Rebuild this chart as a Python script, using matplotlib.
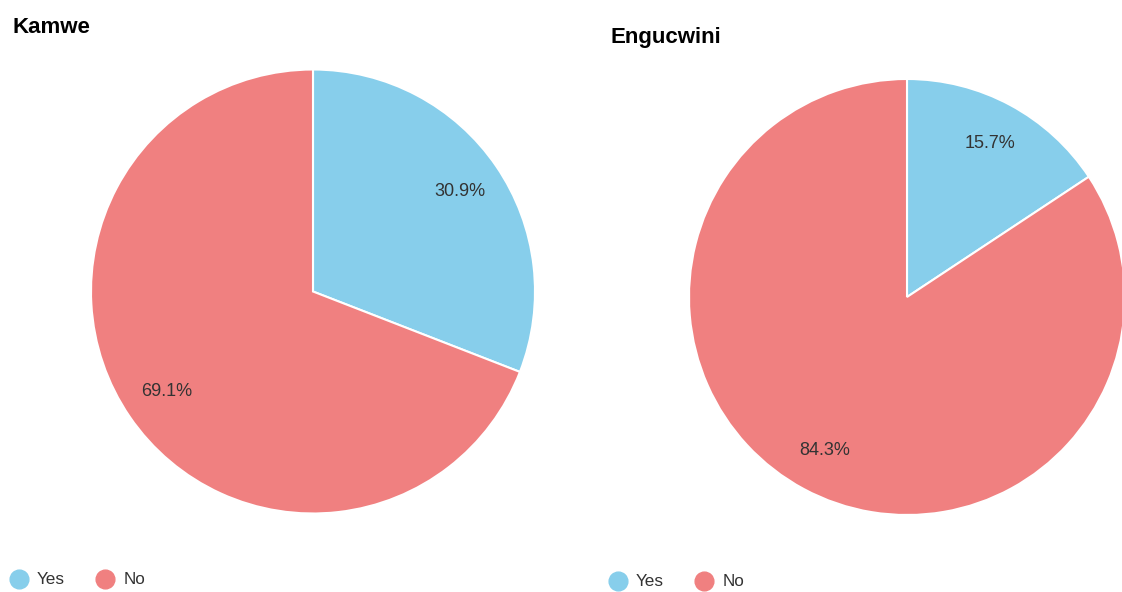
import matplotlib
matplotlib.use("Agg")
import matplotlib.pyplot as plt
from matplotlib.lines import Line2D

plt.rcParams['font.family'] = ['Liberation Sans', 'DejaVu Sans']

# Survey answers for each group
categories = ["Yes", "No"]
kamwe_values = [30.9, 69.1]
engucwini_values = [15.7, 84.3]
titles = ["Kamwe", "Engucwini"]
colors = ["#87CEEB", "#F08080"]

W, H = 1122, 592
fig = plt.figure(figsize=(W / 100, H / 100), dpi=100)


def px_axes(cx, cy, r):
    """Square axes centred on a pixel position (top-left origin)."""
    return fig.add_axes([(cx - r) / W, 1 - (cy + r) / H, 2 * r / W, 2 * r / H])


def draw_pie(ax, values):
    wedges, _, autotexts = ax.pie(
        values, colors=colors, startangle=90, counterclock=False,
        autopct="%.1f%%", pctdistance=0.8, radius=1.0,
        wedgeprops=dict(edgecolor="white", linewidth=1.5),
        textprops=dict(fontsize=13, color="#333333"),
    )
    ax.set_xlim(-1, 1)
    ax.set_ylim(-1, 1)
    ax.set_aspect("equal")
    ax.axis("off")
    return wedges


ax1 = px_axes(313, 291.5, 222)
draw_pie(ax1, kamwe_values)
ax2 = px_axes(907, 297, 218)
draw_pie(ax2, engucwini_values)

fig.text(12 / W, 1 - 33 / H, titles[0], fontsize=16, fontweight="bold",
         color="black", ha="left", va="baseline")
fig.text(610 / W, 1 - 43 / H, titles[1], fontsize=16, fontweight="bold",
         color="black", ha="left", va="baseline")

handles = [Line2D([0], [0], marker="o", linestyle="none", markersize=13.5,
                  markerfacecolor=c, markeredgecolor=c) for c in colors]

for x0, y0 in [(10.5, 580), (609.5, 582)]:
    fig.legend(handles, categories, loc="center left",
               bbox_to_anchor=(x0 / W, 1 - y0 / H), ncol=2, frameon=False,
               fontsize=12.3, labelcolor="#333333", handlelength=1.0,
               handletextpad=0.56, columnspacing=1.85, borderpad=0,
               borderaxespad=0)

fig.savefig("out.png", dpi=100, facecolor="white")
